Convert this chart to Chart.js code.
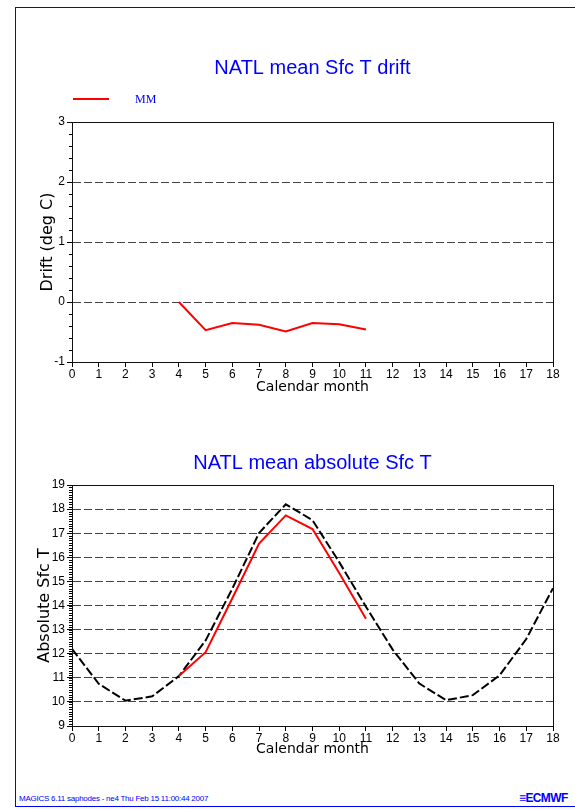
<!DOCTYPE html>
<html><head><meta charset="utf-8">
<script src="https://cdn.jsdelivr.net/npm/chart.js@4/dist/chart.umd.min.js"></script>
<style>
html,body{margin:0;padding:0;background:#fff;width:575px;height:810px;overflow:hidden;font-family:"Liberation Sans",Arial,sans-serif}
#frame{position:absolute;left:15px;top:7px;width:570px;height:800px;border-left:1px solid #0000ff;border-top:1px solid #0000ff;border-bottom:1px solid #0000ff;box-sizing:border-box}
#w1{position:absolute;left:0;top:0;width:575px;height:405px}
#w2{position:absolute;left:0;top:405px;width:575px;height:375px}
#footer{position:absolute;left:19px;top:794px;font-size:8px;line-height:10px;color:#0000ff;white-space:nowrap;letter-spacing:-0.25px}
#logo{position:absolute;left:519px;top:791px;font:bold 12px "Liberation Sans",Arial,sans-serif;color:#0000ff;letter-spacing:-0.6px}
</style></head>
<body>
<div id="frame"></div>
<div id="w1"><canvas id="c1" width="575" height="405" style="width:575px;height:405px"></canvas></div>
<div id="w2"><canvas id="c2" width="575" height="375" style="width:575px;height:375px"></canvas></div>
<div id="footer">MAGICS 6.11 saphodes - ne4 Thu Feb 15 11:00:44 2007</div>
<div id="logo">&#x2261;ECMWF</div>
<script>
// ---- data ----
const driftMonths = [4, 5, 6, 7, 8, 9, 10, 11];
const driftMM = [0.0, -0.47, -0.35, -0.38, -0.49, -0.35, -0.37, -0.46];

const absMonthsMM = [4, 5, 6, 7, 8, 9, 10, 11];
const absMM = [11.07, 12.06, 14.3, 16.57, 17.74, 17.17, 15.35, 13.45];

const climMonths = [0, 1, 2, 3, 4, 5, 6, 7, 8, 9, 10, 11, 12, 13, 14, 15, 16, 17, 18];
const climValues = [12.2, 10.75, 10.05, 10.23, 11.07, 12.55, 14.7, 17.01, 18.2, 17.54, 15.8, 13.95, 12.17, 10.76, 10.07, 10.28, 11.1, 12.61, 14.72];

const xTicks = [0, 1, 2, 3, 4, 5, 6, 7, 8, 9, 10, 11, 12, 13, 14, 15, 16, 17, 18];
const driftYTicks = [-1, 0, 1, 2, 3];
const absYTicks = [9, 10, 11, 12, 13, 14, 15, 16, 17, 18, 19];

const pts = (xs, ys) => xs.map((x, i) => ({x: x, y: ys[i]}));

const FONT = '"Liberation Sans", Arial, sans-serif';
const WFONT = '"DejaVu Sans", Verdana, sans-serif';
const BLUE = '#0000ff';

const minorTicks = {
  id: 'minorTicks',
  afterDraw(chart, args, opts) {
    const s = chart.scales.y;
    const ctx = chart.ctx;
    const n = Math.round((s.max - s.min) / opts.step);
    ctx.save();
    ctx.strokeStyle = '#000';
    ctx.lineWidth = 1;
    ctx.beginPath();
    for (let i = 0; i <= n; i++) {
      const y = Math.round(s.getPixelForValue(s.min + i * opts.step)) + 0.5;
      ctx.moveTo(s.right - 3, y);
      ctx.lineTo(s.right, y);
    }
    ctx.stroke();
    const a = chart.chartArea;
    ctx.strokeStyle = '#111';
    ctx.strokeRect(Math.round(a.left) + 0.5, Math.round(a.top) + 0.5, Math.round(a.right - a.left), Math.round(a.bottom - a.top));
    ctx.restore();
  }
};

const lineLegend = {
  id: 'lineLegend',
  afterDraw(chart, args, opts) {
    if (!opts.show) return;
    const ctx = chart.ctx;
    const a = chart.chartArea;
    const ds = chart.data.datasets[0];
    const y = a.top - 23;
    ctx.save();
    ctx.strokeStyle = ds.borderColor;
    ctx.lineWidth = 2;
    ctx.beginPath();
    ctx.moveTo(a.left + 1, y);
    ctx.lineTo(a.left + 37, y);
    ctx.stroke();
    ctx.fillStyle = BLUE;
    ctx.font = '12px "Liberation Serif", "Times New Roman", serif';
    ctx.textBaseline = 'middle';
    ctx.fillText(ds.label, a.left + 63, y + 1);
    ctx.restore();
  }
};

function makeChart(id, cfg) {
  const yMin = cfg.yTicks[0], yMax = cfg.yTicks[cfg.yTicks.length - 1];
  return new Chart(document.getElementById(id), {
    type: 'line',
    data: { datasets: cfg.datasets },
    plugins: [minorTicks, lineLegend],
    options: {
      responsive: false,
      animation: false,
      layout: { padding: { left: 32, right: 22, top: 0, bottom: cfg.padBottom } },
      elements: { point: { radius: 0 }, line: { tension: 0 } },
      plugins: {
        legend: { display: false },
        tooltip: { enabled: false },
        title: {
          display: true, text: cfg.title, color: BLUE, fullSize: false,
          font: { family: FONT, size: 20, weight: 'normal' },
          padding: { top: cfg.titlePadTop, bottom: cfg.titlePadBottom }
        },
        minorTicks: { step: cfg.minorStep },
        lineLegend: { show: cfg.legend }
      },
      scales: {
        x: {
          type: 'linear', min: 0, max: 18,
          afterFit: s => { s.height = 40; },
          afterBuildTicks: s => { s.ticks = xTicks.map(v => ({value: v})); },
          ticks: { color: '#000', font: { family: FONT, size: 12 }, padding: 0, maxRotation: 0, autoSkip: false },
          grid: { drawOnChartArea: false, drawTicks: true, tickLength: 5, tickColor: '#000' },
          border: { display: true, color: '#555' },
          title: { display: true, text: 'Calendar month', color: '#000', font: { family: WFONT, size: 14 }, padding: { top: 0, bottom: cfg.xTitlePad } }
        },
        y: {
          type: 'linear', min: yMin, max: yMax,
          afterFit: s => { s.width = 40; },
          afterBuildTicks: s => { s.ticks = cfg.yTicks.map(v => ({value: v})); },
          ticks: { color: '#000', font: { family: FONT, size: 12 }, padding: 2, autoSkip: false },
          grid: {
            drawTicks: true, tickLength: 5, tickColor: '#000', lineWidth: 1,
            color: c => (c.tick && (c.tick.value === yMin || c.tick.value === yMax)) ? 'rgba(0,0,0,0)' : '#444'
          },
          border: { display: true, color: '#000', dash: [8, 3] },
          title: { display: true, text: cfg.yTitle, color: '#000', font: { family: WFONT, size: 16 }, padding: { top: cfg.yTitlePad, bottom: 0 } }
        }
      }
    }
  });
}

makeChart('c1', {
  title: 'NATL mean Sfc T drift',
  yTitle: 'Drift (deg C)',
  yTicks: driftYTicks,
  minorStep: 0.2,
  legend: true,
  titlePadTop: 56, titlePadBottom: 42,
  padBottom: 3, xTitlePad: 6.6, yTitlePad: 6.4,
  datasets: [
    { label: 'MM', data: pts(driftMonths, driftMM), borderColor: '#ff0000', borderWidth: 2, fill: false }
  ]
});

makeChart('c2', {
  title: 'NATL mean absolute Sfc T',
  yTitle: 'Absolute Sfc T',
  yTicks: absYTicks,
  minorStep: 0.1,
  legend: false,
  titlePadTop: 46, titlePadBottom: 10,
  padBottom: 14, xTitlePad: 8.6, yTitlePad: 3.4,
  datasets: [
    { label: 'MM', data: pts(absMonthsMM, absMM), borderColor: '#ff0000', borderWidth: 2, fill: false },
    { label: 'Climate', data: pts(climMonths, climValues), borderColor: '#000000', borderWidth: 2, borderDash: [9, 3], fill: false }
  ]
});
</script>
</body></html>
